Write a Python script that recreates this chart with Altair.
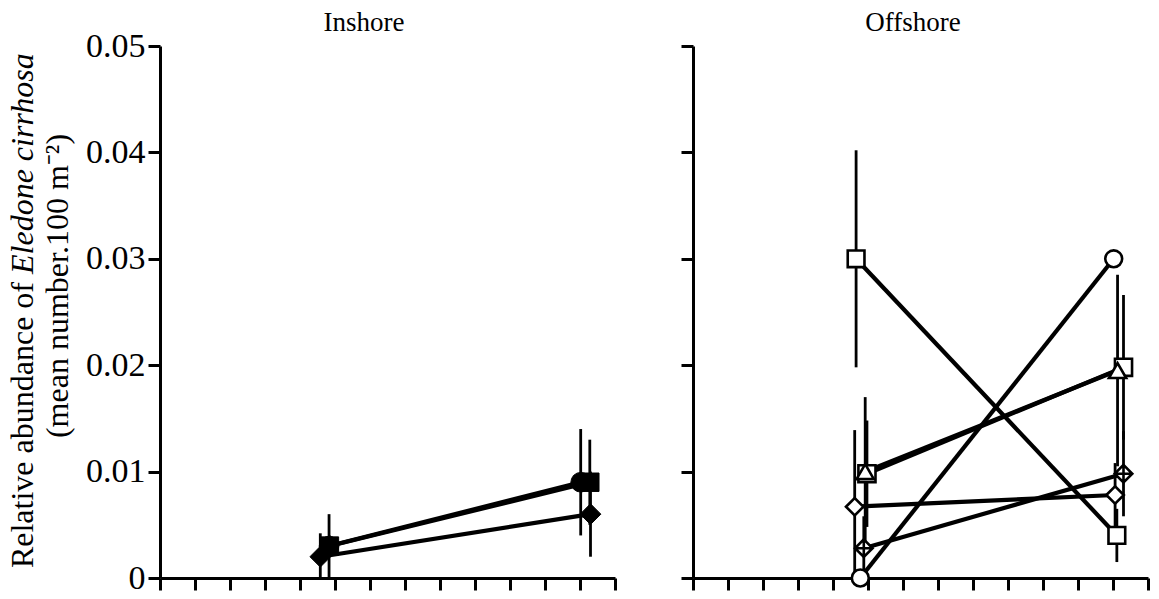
import altair as alt
import pandas as pd

FONT = "Liberation Serif"

# ---- Inshore: filled symbols, two sampling periods ----
in_series = ["in square", "in circle", "in diamond"]
in_x_first = [4.84, 4.83, 4.58]
in_x_second = [12.28, 12.02, 12.30]
in_y_first = [0.003, 0.003, 0.002]
in_y_second = [0.009, 0.009, 0.006]
in_err_first = [0.001, 0.003, 0.0022]
in_err_second = [0.004, 0.005, 0.004]
in_shapes = ["square", "circle", "diamond"]
in_sizes = [340, 430, 470]

# ---- Offshore: open symbols ----
off_series = ["off square A", "off circle", "off square B", "off triangle",
              "off diamond", "off crossed diamond"]
off_x_first = [4.66, 4.78, 4.97, 4.92, 4.62, 4.88]
off_x_second = [12.11, 12.02, 12.30, 12.13, 12.06, 12.30]
off_y_first = [0.030, 0.000, 0.0098, 0.010, 0.0067, 0.0028]
off_y_second = [0.004, 0.030, 0.0198, 0.0195, 0.0078, 0.0098]
off_err_first = [0.0102, 0.0, 0.005, 0.007, 0.0072, 0.003]
off_err_second = [0.0025, 0.0, 0.0068, 0.009, 0.003, 0.004]
off_shapes = ["square", "circle", "square", "triangle-up", "diamond",
              "M0,-1L1,0L0,1L-1,0Z M-1,0L1,0 M0,-1L0,1"]
off_sizes = [280, 310, 220, 75, 220, 150]

y_ticks = [0, 0.01, 0.02, 0.03, 0.04, 0.05]
x_ticks = list(range(14))


def table(series, xa, xb, ya, yb, ea, eb):
    rows = []
    for i, s in enumerate(series):
        for x, y, e in ((xa[i], ya[i], ea[i]), (xb[i], yb[i], eb[i])):
            rows.append({"series": s, "x": x, "y": y,
                         "lo": max(0.0, y - e), "hi": y + e})
    return pd.DataFrame(rows)


inshore = table(in_series, in_x_first, in_x_second, in_y_first, in_y_second,
                in_err_first, in_err_second)
offshore = table(off_series, off_x_first, off_x_second, off_y_first, off_y_second,
                 off_err_first, off_err_second)

W, H = 455, 532
lab = pd.DataFrame({"t": [""]})


def label(text, x, y, size, angle=0, align="center", style="normal"):
    return alt.Chart(lab).mark_text(
        text=text, angle=angle, align=align, baseline="alphabetic",
        font=FONT, fontSize=size, fontStyle=style, color="black",
    ).encode(x=alt.value(x), y=alt.value(y))


def panel_layers(df, series, shapes, sizes, filled, show_labels):
    # tickCount is set above the number of listed values so none are thinned out
    xaxis = alt.Axis(values=x_ticks, tickCount=30, labels=False, labelOverlap=False,
                     tickSize=12, title=None)
    yaxis = alt.Axis(values=y_ticks, tickCount=20, tickSize=12, title=None, labelPadding=3,
                     labels=show_labels, labelOverlap=False,
                     labelExpr="datum.value == 0 ? '0' : format(datum.value, '.2f')")
    xscale = alt.Scale(domain=[0, 13], nice=False, zero=False)
    yscale = alt.Scale(domain=[0, 0.05], nice=False, zero=False)

    def X(f):
        return alt.X(f"{f}:Q", scale=xscale, axis=xaxis)

    def Y(f):
        return alt.Y(f"{f}:Q", scale=yscale, axis=yaxis)

    base = alt.Chart(df)
    bars = base.mark_rule(color="black", strokeWidth=2.8).encode(
        x=X("x"), y=Y("lo"), y2="hi:Q")
    lines = base.mark_line(color="black", strokeWidth=4.2).encode(
        x=X("x"), y=Y("y"), detail="series:N", order="x:Q")
    if filled:
        pts_mark = base.mark_point(filled=True, fill="black", stroke="black",
                                   strokeWidth=1, opacity=1)
    else:
        pts_mark = base.mark_point(filled=False, fill="white", fillOpacity=1,
                                   stroke="black", strokeWidth=2.6, opacity=1)
    pts = pts_mark.encode(
        x=X("x"), y=Y("y"),
        shape=alt.Shape("series:N", scale=alt.Scale(domain=series, range=shapes), legend=None),
        size=alt.Size("series:N", scale=alt.Scale(domain=series, range=sizes), legend=None),
    )
    return [bars, lines, pts]


left = alt.layer(
    *panel_layers(inshore, in_series, in_shapes, in_sizes, True, True),
    label("Inshore", 204, -15, 27),
    # y-axis title; the species name is italic
    label("Relative abundance of", -127, 236, 32, angle=270, align="right"),
    label("Eledone cirrhosa", -127, 228, 32, angle=270, align="left", style="italic"),
    label("(mean number.100 m⁻²)", -92, 240, 32, angle=270),
).properties(width=W, height=H)

right = alt.layer(
    *panel_layers(offshore, off_series, off_shapes, off_sizes, False, False),
    label("Offshore", 220, -15, 27),
).properties(width=W, height=H)

chart = alt.hconcat(left, right, spacing=62).resolve_scale(
    shape="independent", size="independent",
).configure_axis(
    domainColor="black", domainWidth=3, tickColor="black", tickWidth=3,
    grid=False, labelFont=FONT, labelFontSize=34, labelColor="black",
).configure_view(stroke=None).properties(
    padding={"left": 6, "top": 9, "right": 0, "bottom": 0},
    background="white",
)

chart.save("out.html", embed_options={"renderer": "svg", "actions": False})
